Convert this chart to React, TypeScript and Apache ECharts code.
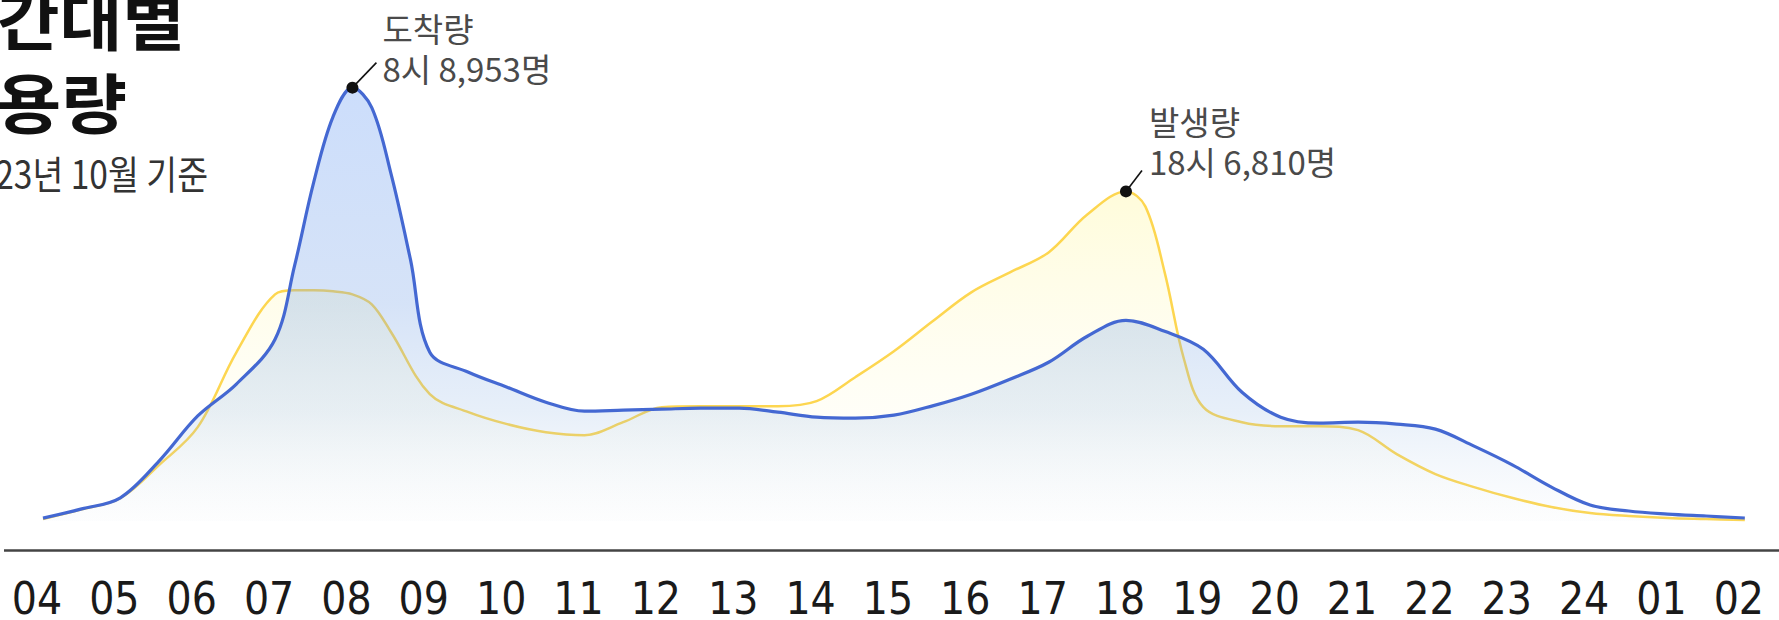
import React, { useEffect, useRef } from "react";
import * as echarts from "echarts";

// ---- data ----
const TICK_LABELS = ["04","05","06","07","08","09","10","11","12","13","14","15","16","17","18","19","20","21","22","23","24","01","02"];

// 도착량 (arrivals) – blue
const ARRIVAL_HOURS = [4,4.5,5,5.5,6,6.5,7,7.25,7.5,7.75,8,8.25,8.5,8.75,9,9.5,10,10.5,11,11.5,12,12.5,13,13.5,14,14.5,15,15.5,16,16.5,17,17.5,18,18.5,19,19.5,20,20.5,21,21.5,22,22.5,23,23.5,24,24.5,25,25.5,26];
const ARRIVAL_VALUES = [60,250,480,1238,2170,2830,3755,5260,7000,8355,8953,8541,7165,5405,3486,3074,2764,2455,2270,2290,2310,2331,2331,2249,2145,2125,2187,2379,2620,2930,3280,3817,4147,3920,3548,2661,2145,2022,2042,2001,1898,1547,1155,701,330,206,144,103,62];

// 발생량 (departures) – yellow
const DEPART_HOURS = [4,4.5,5,5.5,6,6.5,7,7.25,7.5,7.75,8,8.25,8.5,9,9.5,10,10.5,11,11.5,12,12.5,13,13.5,14,14.5,15,15.5,16,16.5,17,17.5,18,18.25,18.5,18.75,19,19.5,20,20.5,21,21.5,22,22.5,23,23.5,24,24.5,25,25.5,26];
const DEPART_VALUES = [40,240,470,1155,1939,3486,4683,4765,4765,4745,4683,4477,3900,2620,2249,2001,1836,1774,2042,2352,2372,2372,2372,2476,2971,3507,4126,4724,5137,5550,6333,6810,6500,5137,3342,2352,2042,1960,1960,1877,1382,970,701,474,289,165,103,62,40,20];

const PEAK_NAMES = ["도착량", "발생량"];
const PEAK_HOURS = [8, 18];
const PEAK_VALUES = [8953, 6810];

const TITLE_LINES = ["시간대별", "이용량"];
const SUBTITLE = "2023년 10월 기준";

const fmt = (n: number) => String(n).replace(/\B(?=(\d{3})+(?!\d))/g, ",");

const KR = "'Noto Sans CJK KR', 'Noto Sans', sans-serif";

export default function App() {
  const ref = useRef<HTMLDivElement>(null);
  useEffect(() => {
    document.body.style.margin = "0";
    if (!ref.current) return;
    const chart = echarts.init(ref.current, null, { renderer: "svg" });
    const option: any = {
      animation: false,
      backgroundColor: "#ffffff",
      grid: { left: 43, right: 27, top: 37, bottom: 98 },
      xAxis: {
        type: "value",
        min: 4,
        max: 26,
        interval: 1,
        axisLine: { show: false },
        axisTick: { show: false },
        splitLine: { show: false },
        axisLabel: {
          show: true,
          showMinLabel: true,
          showMaxLabel: true,
          margin: 77,
          verticalAlign: "middle",
          padding: [0, 12, 0, 0],
          fontSize: 44,
          lineHeight: 34,
          color: "#1a1a1a",
          fontFamily: "'Liberation Sans Narrow', 'DejaVu Sans Condensed', Roboto, sans-serif",
          formatter: (v: number) => TICK_LABELS[Math.round(v - 4)] ?? "",
        },
      },
      yAxis: { type: "value", min: 0, max: 10000, show: false, splitLine: { show: false } },
      series: [
        {
          name: "발생량",
          type: "line",
          smooth: 0.35,
          symbol: "none",
          z: 2,
          data: DEPART_HOURS.map((h, i) => [h, DEPART_VALUES[i]]),
          lineStyle: { color: "#fdd650", width: 2.5 },
          areaStyle: {
            color: new echarts.graphic.LinearGradient(0, 0, 0, 1, [
              { offset: 0, color: "rgba(255,248,175,0.65)" },
              { offset: 0.6, color: "rgba(255,250,200,0.25)" },
              { offset: 1, color: "rgba(255,252,230,0.02)" },
            ]),
          },
        },
        {
          name: "도착량",
          type: "line",
          smooth: 0.35,
          symbol: "none",
          z: 3,
          data: ARRIVAL_HOURS.map((h, i) => [h, ARRIVAL_VALUES[i]]),
          lineStyle: { color: "#4468d2", width: 3.2 },
          areaStyle: {
            color: new echarts.graphic.LinearGradient(0, 0, 0, 1, [
              { offset: 0, color: "rgba(110,160,245,0.5)" },
              { offset: 0.5, color: "rgba(115,160,230,0.42)" },
              { offset: 0.75, color: "rgba(135,175,225,0.28)" },
              { offset: 1, color: "rgba(190,210,235,0.05)" },
            ]),
          },
        },
      ],
    };
    chart.setOption(option);

    const annot = [
      { dx: 30, mid: -39.5, lx: 24, ly: -25 },
      { dx: 23, mid: -50, lx: 16, ly: -21 },
    ];
    const graphics: any[] = [];
    // axis base line across full width
    graphics.push({
      type: "line",
      shape: { x1: 4, y1: 550.5, x2: 1779, y2: 550.5 },
      style: { stroke: "#444", lineWidth: 2.5 },
      z: 10,
    });
    PEAK_HOURS.forEach((h, i) => {
      const p = chart.convertToPixel({ xAxisIndex: 0, yAxisIndex: 0 }, [h, PEAK_VALUES[i]]) as number[];
      const a = annot[i];
      graphics.push({
        type: "line",
        shape: { x1: p[0], y1: p[1], x2: p[0] + a.lx, y2: p[1] + a.ly },
        style: { stroke: "#111", lineWidth: 1.6 },
        z: 20,
      });
      graphics.push({ type: "circle", shape: { cx: p[0], cy: p[1], r: 6 }, style: { fill: "#111" }, z: 21 });
      graphics.push({
        type: "text",
        x: p[0] + a.dx,
        y: p[1] + a.mid,
        z: 21,
        style: {
          text: `${PEAK_NAMES[i]}\n${h}시 ${fmt(PEAK_VALUES[i])}명`,
          fontSize: 33,
          lineHeight: 40,
          fontFamily: KR,
          fill: "#4a4a4a",
          align: "left",
          verticalAlign: "middle",
          textAlign: "left",
          textVerticalAlign: "middle",
        },
      });
    });
    // title (cropped at the left/top edge in the reference)
    const titleRight = [185, 127];
    const titleY = [17, 100];
    const titleScale = [1.05, 1.1];
    TITLE_LINES.forEach((t, i) => {
      graphics.push({
        type: "text",
        x: titleRight[i],
        y: titleY[i],
        scaleX: titleScale[i],
        z: 30,
        style: { text: t, fontSize: 65, fontWeight: "bold", fontFamily: KR, fill: "#111", align: "right", verticalAlign: "middle", textAlign: "right", textVerticalAlign: "middle" },
      });
    });
    graphics.push({
      type: "text",
      x: 208,
      y: 172,
      scaleX: 0.86,
      z: 30,
      style: { text: SUBTITLE, fontSize: 39, fontFamily: KR, fill: "#333", align: "right", verticalAlign: "middle", textAlign: "right", textVerticalAlign: "middle" },
    });
    chart.setOption({ graphic: graphics });

    return () => chart.dispose();
  }, []);
  return <div ref={ref} style={{ width: 1779, height: 620 }} />;
}
